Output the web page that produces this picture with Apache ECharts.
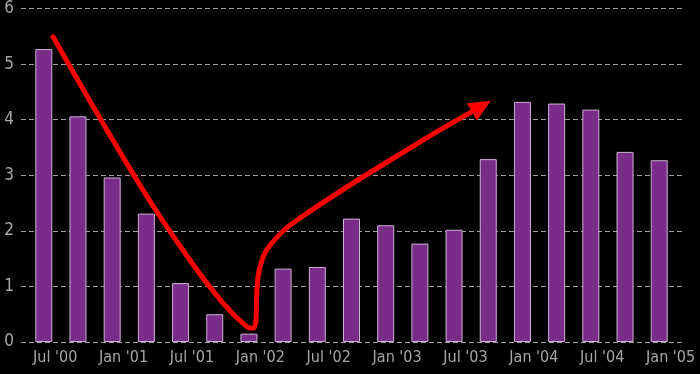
<!DOCTYPE html>
<html>
<head>
<meta charset="utf-8">
<script src="https://cdn.jsdelivr.net/npm/echarts@6/dist/echarts.min.js"></script>
<style>
html,body{margin:0;padding:0;background:#000;}
#c{width:700px;height:374px;}
</style>
</head>
<body>
<div id="c"></div>
<script>
// x position = months since Jan 2000 (0 = Jan '00)
var barMonths = [5, 8, 11, 14, 17, 20, 23, 26, 29, 32, 35, 38, 41, 44, 47, 50, 53, 56, 59];
var barValues = [5.27, 4.06, 2.96, 2.31, 1.06, 0.50, 0.15, 1.32, 1.35, 2.22, 2.10, 1.77, 2.02, 3.29, 4.32, 4.29, 4.18, 3.42, 3.27];
var tickMonths = [6, 12, 18, 24, 30, 36, 42, 48, 54, 60];
var tickLabels = ["Jul '00", "Jan '01", "Jul '01", "Jan '02", "Jul '02", "Jan '03", "Jul '03", "Jan '04", "Jul '04", "Jan '05"];
// annotation arrow path, in [month, value]
var arrowPath = [
  [5.81, 5.49], [13.44, 2.82], [17.83, 1.47], [20.75, 0.695], [22.8, 0.275], [23.33, 0.246],
  [23.62, 0.395], [23.7, 0.93], [23.97, 1.35], [24.85, 1.74],
  [27.48, 2.23], [38.01, 3.6], [43.4, 4.24]
];

var FONT = "'Liberation Sans Narrow', 'DejaVu Sans Condensed', sans-serif";
var chart = echarts.init(document.getElementById('c'));

var barData = barMonths.map(function (m, i) { return [m, barValues[i]]; });
var arrowData = arrowPath.map(function (p, i) {
  if (i === arrowPath.length - 1) {
    return { value: p, symbol: 'triangle', symbolSize: [20, 22], symbolRotate: -60 };
  }
  return { value: p, symbol: 'none' };
});

chart.setOption({
  backgroundColor: '#000',
  animation: false,
  grid: { left: 21, right: 18, top: 7.5, bottom: 32, containLabel: false },
  xAxis: {
    type: 'value',
    min: 3,
    max: 61,
    axisLine: { show: false },
    axisTick: { show: false },
    splitLine: { show: false },
    axisLabel: {
      customValues: tickMonths,
      formatter: function (v) {
        var i = tickMonths.indexOf(v);
        return i >= 0 ? tickLabels[i] : '';
      },
      color: '#a6a6a6',
      fontFamily: FONT,
      fontSize: 16,
      margin: 8
    }
  },
  yAxis: {
    type: 'value',
    min: 0,
    max: 6,
    interval: 1,
    axisLine: { show: false },
    axisTick: { show: false },
    axisLabel: { color: '#a6a6a6', fontFamily: FONT, fontSize: 17, margin: 7 },
    splitLine: { show: true, lineStyle: { color: '#a0a0a0', type: [5, 3], width: 1 } }
  },
  series: [
    {
      type: 'bar',
      data: barData,
      barWidth: 17,
      itemStyle: { color: '#7a2d88', borderColor: '#cdb0d4', borderWidth: 1 }
    },
    {
      type: 'line',
      data: arrowData,
      smooth: 0.4,
      lineStyle: { color: '#ff0000', width: 5, cap: 'round' },
      itemStyle: { color: '#ff0000' },
      z: 10
    }
  ]
});
</script>
</body>
</html>
